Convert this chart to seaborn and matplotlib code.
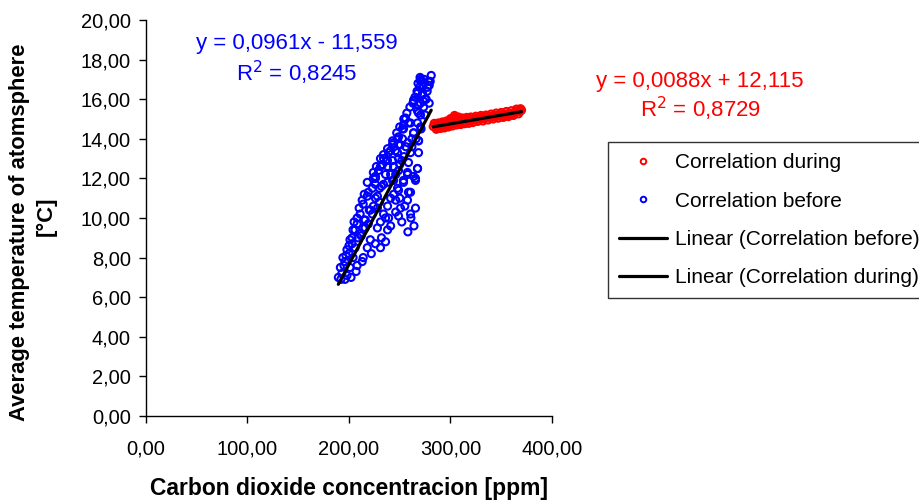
import numpy as np
import pandas as pd
import seaborn as sns
import matplotlib.pyplot as plt
from matplotlib.lines import Line2D

# correlation before (blue) - co2 [ppm], temperature [C]
before_co2 = [281.0, 278.4, 270.5, 273.0, 279.0, 269.5, 277.0, 267.5, 272.0, 263.6,
              273.4, 268.5, 273.5, 267.5, 270.5, 255.7, 260.6, 253.7, 267.5, 270.5,
              277.4, 272.5, 263.6, 270.5, 268.5, 255.7, 258.6, 252.7, 263.6, 248.8,
              243.8, 250.7, 240.9, 268.5, 247.8, 237.9, 233.0, 267.5, 229.0, 243.8,
              224.0, 257.7, 253.7, 226.0, 242.8, 247.8, 219.0, 265.5, 258.6, 270.5,
              263.6, 253.7, 252.7, 247.8, 268.5, 248.8, 242.8, 260.6, 268.5, 238.9,
              245.8, 248.8, 234.0, 242.8, 258.6, 231.0, 267.5, 238.0, 248.8, 226.0,
              257.6, 263.6, 241.0, 226.0, 253.7, 265.5, 223.0, 234.0, 248.8, 260.6,
              218.0, 228.0, 241.0, 257.6, 214.0, 224.0, 238.0, 250.7, 265.5, 211.0,
              223.0, 234.0, 248.8, 260.6, 208.0, 219.0, 231.0, 241.0, 204.0, 216.0,
              206.0, 214.0, 228.0, 238.0, 201.0, 209.0, 221.0, 236.0, 198.0, 206.0,
              218.0, 231.0, 194.0, 204.0, 214.0, 191.5, 201.0, 208.0, 189.5, 198.0,
              193.0, 192.0, 196.0, 200.0, 203.0, 211.0, 216.0, 221.0, 226.0, 232.0,
              236.0, 244.0, 252.0, 256.0, 262.0, 275.0, 280.0, 246.0, 239.0, 230.0,
              195.0, 197.0, 200.0, 203.0, 205.0, 208.0, 210.0, 213.0, 215.0, 218.0,
              224.0, 227.0, 231.0, 234.0, 238.0, 243.0, 247.0, 250.0, 254.0, 257.0,
              260.0, 263.0, 265.0, 267.0, 268.0, 270.0, 274.0, 276.0, 279.0, 275.0,
              271.0, 266.0, 262.0, 258.0, 254.0, 250.0, 246.0, 244.0, 250.0, 255.0,
              261.0, 264.0, 258.0, 252.0, 246.0, 236.0, 232.0, 226.0, 222.0, 213.0,
              207.0, 202.0, 196.0, 212.0, 228.0, 238.0, 237.0, 230.0, 220.0, 215.0]
before_temp = [17.2, 16.9, 16.9, 16.7, 16.7, 16.6, 16.4, 16.3, 16.2, 15.9,
               15.9, 15.7, 15.6, 15.4, 15.2, 15.0, 14.8, 14.7, 14.8, 17.0,
               16.6, 16.3, 15.95, 15.8, 15.3, 15.05, 14.8, 14.5, 14.3, 14.1,
               13.8, 13.7, 13.4, 13.9, 13.3, 12.9, 12.7, 12.5, 12.4, 12.6,
               12.0, 12.2, 11.8, 11.7, 11.9, 11.5, 11.3, 12.0, 11.3, 14.6,
               14.3, 14.5, 14.0, 14.0, 13.9, 13.7, 13.7, 13.3, 13.3, 13.3,
               13.4, 13.0, 13.0, 12.9, 12.8, 12.6, 12.5, 12.6, 12.4, 12.1,
               12.3, 12.1, 12.2, 12.0, 11.9, 11.9, 11.5, 11.7, 11.4, 11.3,
               11.1, 11.1, 11.0, 10.9, 10.7, 10.6, 10.6, 10.5, 10.5, 10.2,
               10.2, 10.2, 10.1, 10.2, 9.7, 9.7, 9.8, 9.6, 9.4, 9.5,
               9.4, 9.5, 9.5, 9.4, 8.9, 9.0, 8.9, 8.8, 8.4, 8.5,
               8.5, 8.5, 8.0, 8.0, 8.0, 7.5, 7.5, 7.6, 7.0, 7.1,
               7.2, 6.9, 7.8, 8.2, 8.7, 9.2, 9.9, 10.4, 11.0, 11.6,
               12.2, 11.9, 12.9, 13.6, 14.0, 16.0, 16.9, 10.9, 10.0, 10.8,
               7.6, 8.1, 8.6, 9.0, 9.8, 10.0, 10.5, 10.9, 11.2, 11.8,
               12.3, 12.6, 13.0, 13.2, 13.5, 13.9, 14.3, 14.6, 15.0, 15.3,
               15.6, 15.8, 16.1, 16.4, 16.8, 17.1, 17.0, 16.0, 15.8, 15.2,
               14.5, 14.0, 13.6, 13.8, 13.1, 12.7, 12.2, 11.2, 11.0, 10.6,
               10.0, 9.6, 9.3, 9.8, 10.3, 10.0, 9.0, 8.7, 8.2, 7.8,
               7.3, 7.0, 6.9, 9.1, 10.5, 11.8, 12.9, 11.5, 10.4, 9.9]

# correlation during (red)
during_co2 = [283, 285, 286, 288, 289, 290, 291, 292, 293, 294,
              295, 296, 297, 298, 299, 300, 301, 302, 303, 304,
              305, 306, 307, 308, 309, 310, 311, 312, 313, 314,
              315, 316, 317, 318, 319, 320, 322, 324, 326, 328,
              330, 332, 334, 336, 338, 340, 342, 344, 346, 348,
              350, 352, 354, 356, 358, 360, 362, 364, 366, 368, 370,
              287, 292, 297, 303, 309, 315, 321, 327, 333, 339,
              345, 351, 357, 363, 369,
              284, 288, 292, 296, 300, 304, 308, 312, 316, 320,
              325, 330, 335, 340, 345, 350, 355, 360, 365, 369,
              286, 290, 294, 298, 302, 306, 310, 314, 318, 322,
              327, 332, 337, 342, 347, 352, 357, 362, 367]
during_temp = [14.62, 14.70, 14.58, 14.66, 14.75, 14.63, 14.70, 14.60, 14.72, 14.68,
               14.78, 14.65, 14.74, 14.82, 14.70, 14.95, 14.85, 15.05, 14.90, 15.10,
               14.88, 15.00, 14.92, 14.80, 14.98, 14.86, 15.02, 14.90, 14.84, 14.95,
               15.00, 14.88, 14.96, 15.04, 14.92, 15.00, 14.95, 15.05, 14.98, 15.08,
               15.02, 15.10, 15.05, 15.15, 15.08, 15.12, 15.18, 15.10, 15.20, 15.15,
               15.22, 15.18, 15.25, 15.22, 15.30, 15.26, 15.32, 15.36, 15.42, 15.38, 15.45,
               14.55, 14.80, 14.62, 14.78, 14.88, 14.84, 14.92, 15.00, 15.00, 15.04,
               15.14, 15.12, 15.20, 15.28, 15.40,
               14.78, 14.80, 14.85, 14.90, 15.02, 15.18, 15.10, 15.05, 15.08, 15.10,
               15.14, 15.18, 15.20, 15.25, 15.30, 15.33, 15.38, 15.42, 15.50, 15.52,
               14.48, 14.52, 14.55, 14.60, 14.65, 14.70, 14.72, 14.76, 14.78, 14.82,
               14.88, 14.90, 14.95, 15.00, 15.04, 15.08, 15.12, 15.18, 15.26]

# trend lines (slope, intercept) from excel
fit_before = [0.0961, -11.559]
fit_during = [0.0088, 12.115]

x_ticks = [0, 100, 200, 300, 400]
y_ticks = [0, 2, 4, 6, 8, 10, 12, 14, 16, 18, 20]

sns.set_style('ticks')
plt.rcParams['font.family'] = ['Liberation Sans', 'DejaVu Sans']
plt.rcParams['text.color'] = 'black'
plt.rcParams['xtick.color'] = 'black'
plt.rcParams['ytick.color'] = 'black'

fig = plt.figure(figsize=(9.2, 5), dpi=100)
ax = fig.add_axes([146/920, 1-416/500, 406/920, 396/500])

df_b = pd.DataFrame({'co2': before_co2, 'temp': before_temp})
df_d = pd.DataFrame({'co2': during_co2, 'temp': during_temp})

sns.scatterplot(data=df_b, x='co2', y='temp', ax=ax, marker='o', s=26,
                facecolor='none', edgecolor='#0000ff', linewidth=1.5)
sns.scatterplot(data=df_d, x='co2', y='temp', ax=ax, marker='o', s=26,
                facecolor='none', edgecolor='#ff0000', linewidth=1.5)

xb = np.array([min(before_co2), max(before_co2)])
xd = np.array([min(during_co2), max(during_co2)])
sns.lineplot(x=xb, y=fit_before[0]*xb + fit_before[1], ax=ax, color='black', linewidth=2.3)
sns.lineplot(x=xd, y=fit_during[0]*xd + fit_during[1], ax=ax, color='black', linewidth=2.3)

ax.set_xlim(0, 400)
ax.set_ylim(0, 20)
ax.set_xticks(x_ticks)
ax.set_yticks(y_ticks)
ax.set_xticklabels([f'{v:.2f}'.replace('.', ',') for v in x_ticks])
ax.set_yticklabels([f'{v:.2f}'.replace('.', ',') for v in y_ticks])
ax.tick_params(axis='both', labelsize=14.5, direction='out', length=5, width=1,
               color='black', labelcolor='black')
ax.tick_params(axis='x', pad=12)
ax.tick_params(axis='y', pad=6)
for sp in ['left', 'bottom']:
    ax.spines[sp].set_color('black')
    ax.spines[sp].set_linewidth(1)
sns.despine(ax=ax)
ax.set_xlabel('')
ax.set_ylabel('')

fig.text(349/920, 1-488/500, 'Carbon dioxide concentracion [ppm]', ha='center', va='center',
         fontsize=16.5, fontweight='bold')
fig.text(20/920, 1-232/500, 'Average temperature of atomsphere', ha='center', va='center',
         rotation=90, fontsize=15.8, fontweight='bold')
fig.text(46/920, 1-216/500, '[°C]', ha='center', va='center',
         rotation=90, fontsize=15.8, fontweight='bold')

fig.text(297/920, 1-44/500, 'y = 0,0961x - 11,559', color='#0000ff', fontsize=16,
         ha='center', va='center')
fig.text(297/920, 1-73/500, 'R$^2$ = 0,8245', color='#0000ff', fontsize=16,
         ha='center', va='center')
fig.text(700/920, 1-81/500, 'y = 0,0088x + 12,115', color='#ff0000', fontsize=16,
         ha='center', va='center')
fig.text(700/920, 1-109/500, 'R$^2$ = 0,8729', color='#ff0000', fontsize=16,
         ha='center', va='center')

handles = [
    Line2D([], [], linestyle='none', marker='o', markersize=4, markerfacecolor='none',
           markeredgecolor='#ff0000', markeredgewidth=1.4),
    Line2D([], [], linestyle='none', marker='o', markersize=4, markerfacecolor='none',
           markeredgecolor='#0000ff', markeredgewidth=1.4),
    Line2D([], [], color='black', linewidth=2.3),
    Line2D([], [], color='black', linewidth=2.3),
]
labels = ['Correlation during', 'Correlation before',
          'Linear (Correlation before)', 'Linear (Correlation during)']
leg = fig.legend(handles, labels, loc='upper left', bbox_to_anchor=(608/920, 1-142/500),
                 fontsize=15, frameon=True, fancybox=False, edgecolor='black',
                 handlelength=2.3, handletextpad=0.35, labelspacing=0.92,
                 borderpad=0.55, borderaxespad=0)
leg.get_frame().set_linewidth(1)

plt.savefig('out.png', dpi=100)
